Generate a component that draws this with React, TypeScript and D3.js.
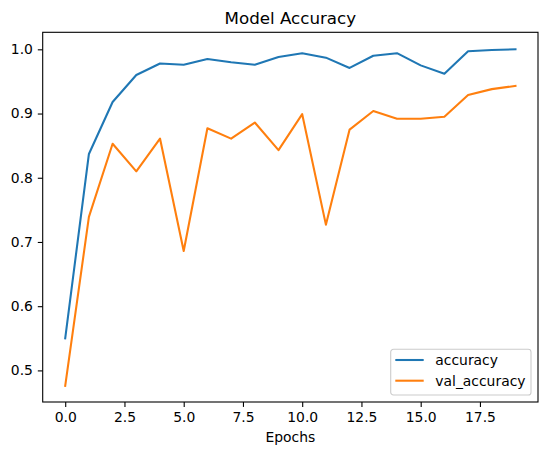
import React, { useEffect, useRef } from 'react';
import * as d3 from 'd3';

const epochs = d3.range(0, 20);
const accuracy = [0.550, 0.837, 0.918, 0.960, 0.978, 0.976, 0.985, 0.980, 0.976, 0.988,
  0.994, 0.987, 0.971, 0.990, 0.994, 0.975, 0.962, 0.997, 0.999, 1.000];
const valAccuracy = [0.476, 0.739, 0.853, 0.810, 0.861, 0.686, 0.877, 0.861, 0.886, 0.843,
  0.899, 0.727, 0.875, 0.904, 0.892, 0.892, 0.895, 0.929, 0.938, 0.943];
const xTicks = [0, 2.5, 5, 7.5, 10, 12.5, 15, 17.5];
const yTicks = [0.5, 0.6, 0.7, 0.8, 0.9, 1.0];
const seriesNames = ['accuracy', 'val_accuracy'];
const colors = ['#1f77b4', '#ff7f0e'];

const W = 547;
const H = 455;

export default function App() {
  const svgRef = useRef<SVGSVGElement>(null);

  useEffect(() => {
    const svg = d3.select(svgRef.current);
    svg.selectAll('*').remove();

    const font = 'DejaVu Sans, sans-serif';
    const left = 42.7, right = 538, top = 32.3, bottom = 402;

    const x = d3.scaleLinear().domain([-0.95, 19.95]).range([left, right]);
    const y = d3.scaleLinear().domain([0.4508, 1.0265]).range([bottom, top]);

    svg.append('rect').attr('width', W).attr('height', H).attr('fill', '#fff');

    // axes
    const xAxis = svg.append('g')
      .attr('transform', `translate(0,${bottom})`)
      .call(d3.axisBottom(x).tickValues(xTicks).tickSize(4.9).tickPadding(4.9)
        .tickFormat(d => (d as number).toFixed(1)));
    const yAxis = svg.append('g')
      .attr('transform', `translate(${left},0)`)
      .call(d3.axisLeft(y).tickValues(yTicks).tickSize(4.9).tickPadding(4.9)
        .tickFormat(d => (d as number).toFixed(1)));

    [xAxis, yAxis].forEach(a => {
      a.select('.domain').remove();
      a.selectAll('line').attr('stroke', '#000').attr('stroke-width', 1.1);
      a.selectAll('text').attr('fill', '#000')
        .style('font-family', font).style('font-size', '13.9px');
    });

    // series lines
    const line = d3.line<number>()
      .x((_, i) => x(epochs[i]))
      .y(d => y(d));

    [accuracy, valAccuracy].forEach((s, k) => {
      svg.append('path')
        .datum(s)
        .attr('d', line)
        .attr('fill', 'none')
        .attr('stroke', colors[k])
        .attr('stroke-width', 2.08)
        .attr('stroke-linejoin', 'round')
        .attr('stroke-linecap', 'square');
    });

    // frame
    svg.append('rect')
      .attr('x', left).attr('y', top)
      .attr('width', right - left).attr('height', bottom - top)
      .attr('fill', 'none').attr('stroke', '#000').attr('stroke-width', 1.1);

    // title
    svg.append('text')
      .attr('x', (left + right) / 2).attr('y', 24)
      .attr('text-anchor', 'middle')
      .style('font-family', font).style('font-size', '16.7px')
      .text('Model Accuracy');

    svg.append('text')
      .attr('x', (left + right) / 2).attr('y', 442)
      .attr('text-anchor', 'middle')
      .style('font-family', font).style('font-size', '13.9px')
      .text('Epochs');

    // legend
    const lg = svg.append('g').attr('transform', 'translate(390.7,349.3)');
    lg.append('rect')
      .attr('width', 140.3).attr('height', 45.7).attr('rx', 2.8)
      .attr('fill', '#fff').attr('fill-opacity', 0.8)
      .attr('stroke', '#ccc').attr('stroke-width', 1.1);
    seriesNames.forEach((name, i) => {
      const ly = 10.7 + i * 20.7;
      lg.append('line')
        .attr('x1', 4.6).attr('x2', 33)
        .attr('y1', ly).attr('y2', ly)
        .attr('stroke', colors[i]).attr('stroke-width', 2.08);
      lg.append('text')
        .attr('x', 44.6).attr('y', ly + 4.9)
        .style('font-family', font).style('font-size', '13.9px')
        .text(name);
    });
  }, []);

  return (
    <>
      <style>{'body{margin:0}'}</style>
      <svg ref={svgRef} width={W} height={H} style={{ display: 'block' }} />
    </>
  );
}
